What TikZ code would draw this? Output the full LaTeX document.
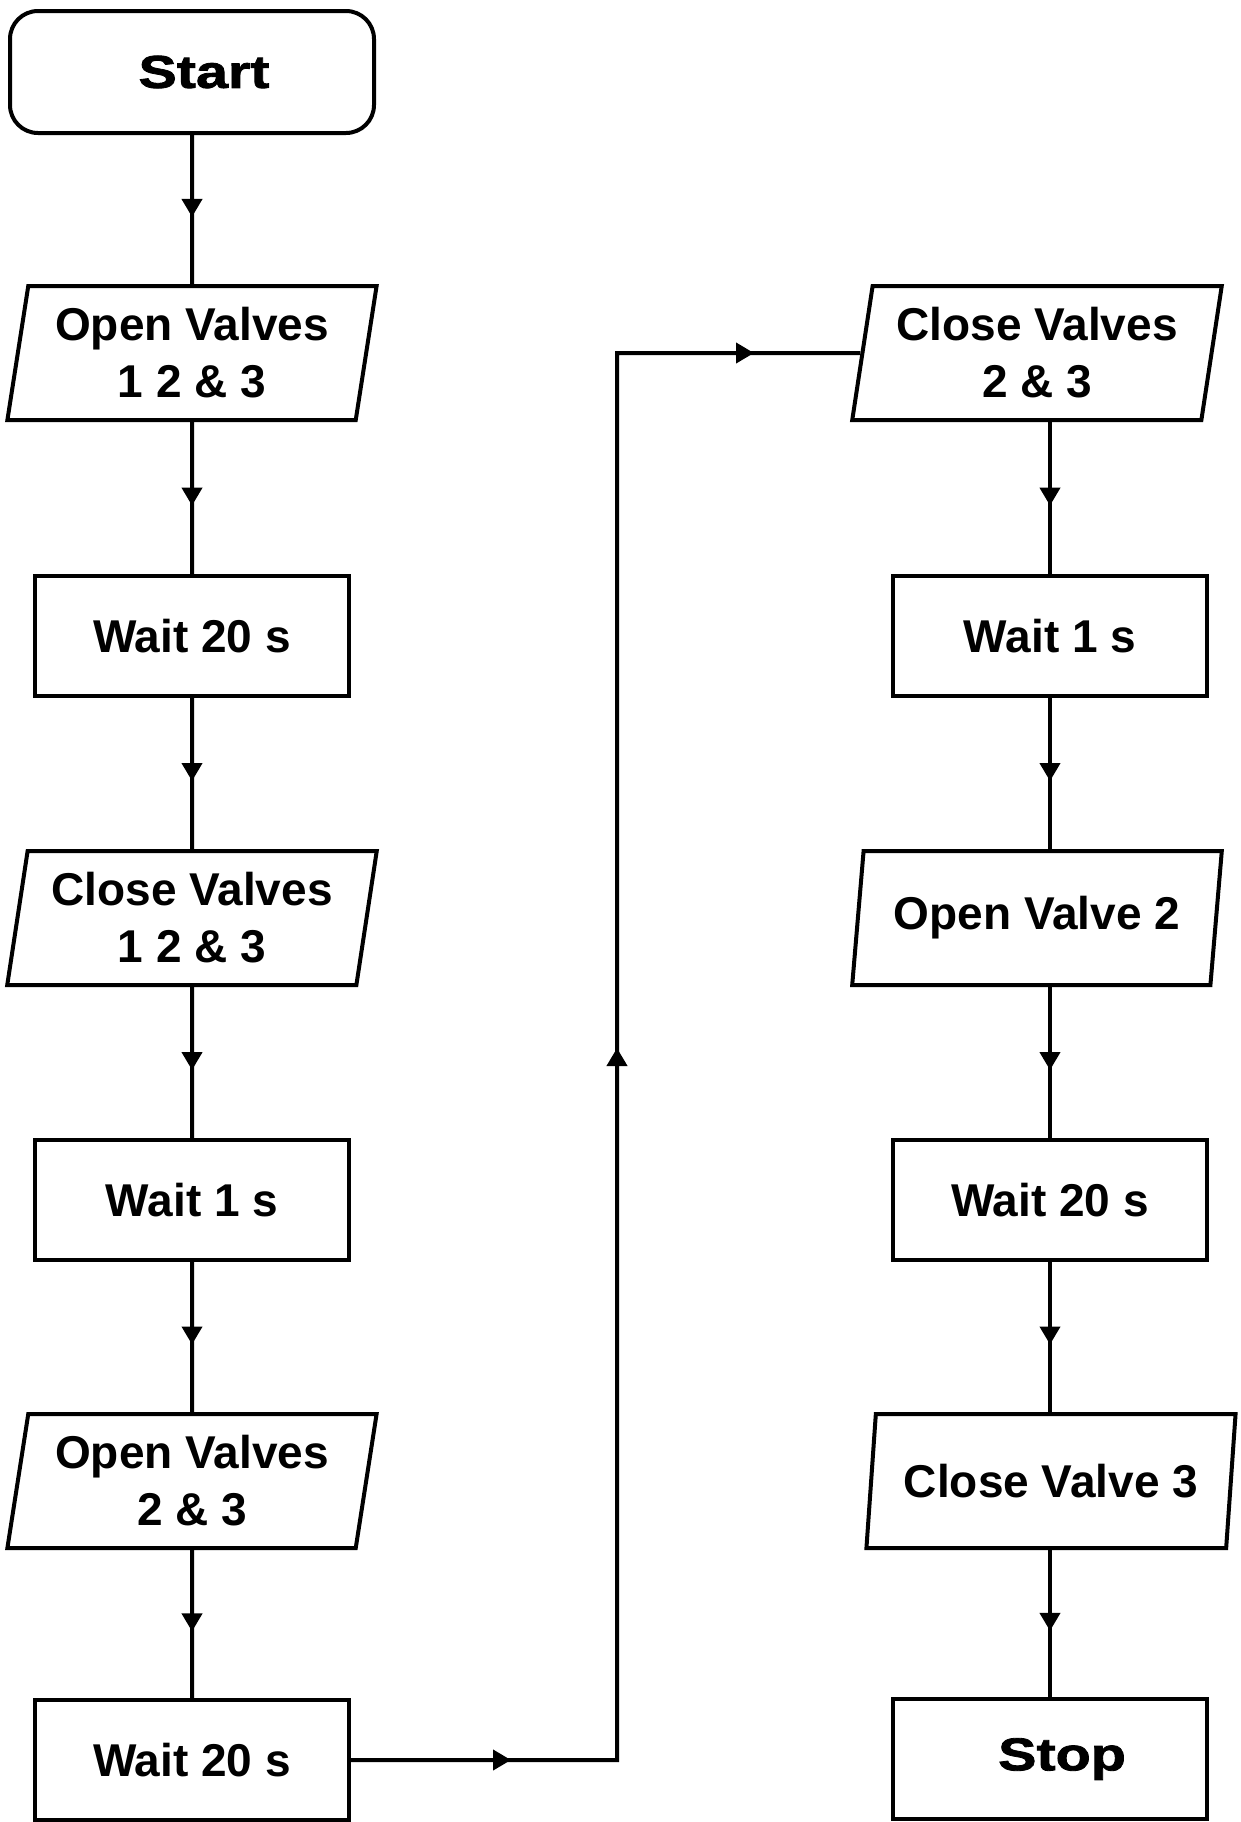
\documentclass[tikz,border=0pt]{standalone}
\usepackage{fontspec}
\setmainfont{Liberation Sans}
\newfontfamily\heavyfont{Liberation Sans Bold}[FakeBold=1.8,FakeStretch=1.25]
\usetikzlibrary{shapes.geometric,arrows.meta,decorations.markings}
\def\tip{\arrow{Triangle[length=9pt,width=10pt]}}
\tikzset{
    base/.style={draw,line width=2pt,align=center,font=\fontsize{23}{28.5}\selectfont\bfseries},
    heavy/.style={font=\fontsize{23}{28.5}\selectfont\heavyfont,execute at begin node=\hspace*{12pt}},
    term/.style={base,heavy,rounded corners=14pt,minimum width=182pt,minimum height=61pt},
    waitbox/.style={base,rectangle,minimum width=157pt,minimum height=60pt},
    io/.style={base,trapezium,trapezium left angle=80.5,trapezium right angle=99.5,trapezium stretches=true,minimum width=185pt,minimum height=67pt,inner xsep=0pt},
    midarrow/.style={line width=2pt,postaction={decorate},decoration={markings,mark=at position #1 with {\tip}}},
    midarrow/.default=0.55
}
\begin{document}
\begin{tikzpicture}[x=0.5pt,y=-0.5pt]
    \useasboundingbox (0,0) rectangle (1241,1822);
    % left column
    \node[term] (start) at (192,72) {Start};
    \node[io] (open123) at (192,353) {Open Valves\\1 2 \& 3};
    \node[waitbox] (wait20a) at (192,636) {Wait 20 s};
    \node[io] (close123) at (192,918) {Close Valves\\1 2 \& 3};
    \node[waitbox] (wait1a) at (192,1200) {Wait 1 s};
    \node[io] (open23) at (192,1481) {Open Valves\\2 \& 3};
    \node[waitbox] (wait20b) at (192,1760) {Wait 20 s};
    % right column
    \node[io] (close23) at (1037,353) {Close Valves\\2 \& 3};
    \node[waitbox] (wait1b) at (1050,636) {Wait 1 s};
    \node[io] (open2) at (1037,918) {Open Valve 2};
    \node[waitbox] (wait20c) at (1050,1200) {Wait 20 s};
    \node[io] (close3) at (1051,1481) {Close Valve 3};
    \node[waitbox,heavy] (stop) at (1050,1759) {Stop};
    \coordinate (low) at (617,1760);
    \coordinate (high) at (617,353);

    \draw[midarrow] (start.south) -- (open123.north);
    \draw[midarrow] (open123.south) -- (wait20a.north);
    \draw[midarrow] (wait20a.south) -- (close123.north);
    \draw[midarrow] (close123.south) -- (wait1a.north);
    \draw[midarrow] (wait1a.south) -- (open23.north);
    \draw[midarrow] (open23.south) -- (wait20b.north);
    \draw[line width=2pt,postaction={decorate},decoration={markings,
            mark=at position 80pt with {\tip},
            mark=at position 489pt with {\tip},
            mark=at position 905pt with {\tip}}]
        (wait20b.east) -- (low) -- (high) -- (close23.west);
    \draw[midarrow] (close23.south -| wait1b.north) -- (wait1b.north);
    \draw[midarrow] (wait1b.south) -- (wait1b.south |- open2.north);
    \draw[midarrow] (open2.south -| wait20c.north) -- (wait20c.north);
    \draw[midarrow] (wait20c.south) -- (wait20c.south |- close3.north);
    \draw[midarrow] (close3.south -| stop.north) -- (stop.north);
\end{tikzpicture}
\end{document}
